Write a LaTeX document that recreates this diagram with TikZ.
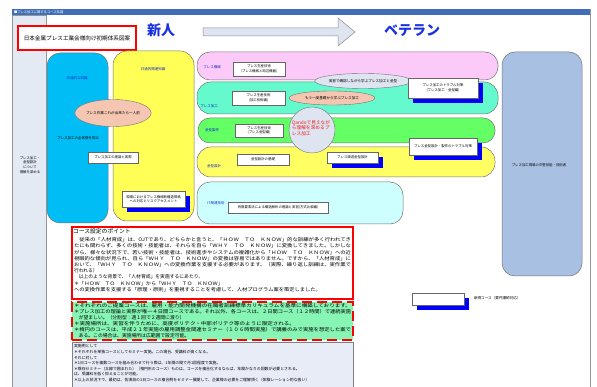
\documentclass[tikz,border=0pt]{standalone}
\usepackage{fontspec}
\setmainfont{Noto Sans CJK JP}
\usepackage{graphicx}
\usetikzlibrary{shapes.geometric,shadows}

\definecolor{framegray}{RGB}{150,150,150}
\definecolor{barblue}{RGB}{66,110,185}
\definecolor{sidepanel}{RGB}{228,234,244}
\definecolor{skyfill}{RGB}{0,190,245}
\definecolor{lemon}{RGB}{255,255,85}
\definecolor{rosefill}{RGB}{251,202,248}
\definecolor{aquafill}{RGB}{100,250,205}
\definecolor{limefill}{RGB}{100,255,100}
\definecolor{yelstripe}{RGB}{255,255,100}
\definecolor{icefill}{RGB}{205,255,255}
\definecolor{steelfill}{RGB}{168,192,226}
\definecolor{salmonfill}{RGB}{245,198,178}
\definecolor{mistfill}{RGB}{222,228,240}
\definecolor{notegreen}{RGB}{135,245,180}
\definecolor{notegray}{RGB}{232,236,246}
\definecolor{labelblue}{RGB}{20,40,200}
\definecolor{titleblue}{RGB}{25,50,225}
\definecolor{alertred}{RGB}{235,30,30}

\newcommand{\fsz}[1]{\fontsize{#1}{#1}\selectfont}
\newcommand{\wline}[2]{\resizebox{#1}{\height}{#2}}

\begin{document}
\begin{tikzpicture}[x=1pt,y=-1pt,
  every node/.style={inner sep=0pt,outer sep=0pt},
  panel/.style={draw=black!55,line width=0.5pt,rounded corners=13pt,anchor=north west},
  lbl/.style={font=\fsz{3.5},text=labelblue},
  wbox/.style={draw=black!60,fill=white,line width=0.4pt,font=\fontsize{3.4}{4.4}\selectfont,
               align=center,anchor=north west},
  sbox/.style={wbox,drop shadow={shadow xshift=5pt,shadow yshift=-5pt,fill=blue,opacity=1}},
  oval/.style={ellipse,draw=black!55,line width=0.4pt,font=\fsz{3.6}},
  bignote/.style={anchor=north west,align=left}
]
\useasboundingbox (0,0) rectangle (597,387);
\clip (0,0) rectangle (597,387);

% window frame, title bar and side panel
\draw[framegray,line width=0.6pt,fill=white] (12,9) rectangle (590,395);
\fill[barblue] (12,9) rectangle (590,15);
\node[anchor=west,text=white,font=\fsz{3.3}] (bartitle) at (14,12) {■プレス加工に関するコース系譜};
\draw[framegray,line width=0.5pt,fill=sidepanel] (12,15) rectangle (46,395);
\node[align=center,font=\fontsize{3.4}{4.6}\selectfont] (aim) at (30,165)
  {プレス加工・\\金型設計\\について\\理解を深める};

% heading
\node[draw=red,line width=1.5pt,fill=white,anchor=north west,minimum width=118pt,minimum height=24pt,
      font=\fsz{5.6}] (plan) at (18,26) {日本金属プレス工業会様向け初期体系図案};
\node[font=\bfseries\fsz{14},text=titleblue] (novice) at (161,30) {新人};
\node[font=\bfseries\fsz{14},text=titleblue] (veteran) at (412,31) {ベテラン};
\draw[black!45,line width=0.5pt,fill=mistfill]
  (203,28) -- (338,28) -- (338,18) -- (355,32) -- (338,46) -- (338,36) -- (203,36) -- cycle;

% basic knowledge columns
\node[panel,fill=skyfill,minimum width=61pt,minimum height=170pt] (basic) at (47,53) {};
\node[panel,fill=lemon,rounded corners=14pt,minimum width=81pt,minimum height=170pt] (related) at (113,51) {};
\node[lbl] (basiclbl) at (77,78) {共通的な知識};
\node[lbl] (relatedlbl) at (153,69) {共通的関連知識};
\node[font=\fsz{3.5}] (overview) at (78,138) {プレス加工の全体像を知る};
\node[oval,fill=salmonfill,minimum width=70pt,minimum height=27pt] (oneman) at (113,113)
  {プレス作業これが出来たら一人前};
\node[wbox,minimum width=50pt,minimum height=11pt] (theory) at (88,152) {プレス加工の理論と実際};
\node[sbox,minimum width=63pt,minimum height=16pt] (newstd) at (122,191)
  {現場におけるプレス機械新構造規格\\への対応とリスクアセスメント};

% skill stripes
\node[panel,fill=rosefill,minimum width=301pt,minimum height=28pt] (machine) at (197,52) {};
\node[panel,fill=aquafill,rounded corners=14pt,minimum width=301pt,minimum height=32pt] (forming) at (197,82) {};
\node[panel,fill=limefill,rounded corners=12pt,minimum width=297pt,minimum height=25pt] (diemake) at (198,118) {};
\node[panel,fill=yelstripe,rounded corners=14pt,minimum width=298pt,minimum height=30pt] (diedesign) at (197,147) {};
\node[panel,fill=icefill,minimum width=206pt,minimum height=42pt] (itskill) at (197,182) {};
\node[panel,fill=steelfill,minimum width=80pt,minimum height=224pt] (target) at (502,52) {};
\node[font=\fsz{3.4}] (targetlbl) at (539,165) {プレス加工現場の中堅技能・技術者};

\node[lbl] (machinelbl) at (212,67) {プレス機械};
\node[lbl] (forminglbl) at (209,106) {プレス加工};
\node[lbl] (diemakelbl) at (212,130) {金型製作};
\node[lbl] (diedesignlbl) at (214,166) {金型設計};
\node[lbl] (itlbl) at (216,203) {IT関連技術};

\node[wbox,minimum width=52pt,minimum height=14pt] (prodA) at (233,62) {プレス生産技術\\(プレス機械と周辺機器)};
\node[wbox,minimum width=53pt,minimum height=14pt] (prodB) at (232,91) {プレス生産技術\\(加工技術編)};
\node[wbox,minimum width=48pt,minimum height=13pt] (prodC) at (235,124) {プレス生産技術\\(プレス金型編)};
\node[wbox,minimum width=52pt,minimum height=11pt] (diebasics) at (237,154) {金型設計の基礎};
\node[wbox,minimum width=100pt,minimum height=11pt] (fem) at (228,202) {有限要素法による構造解析の理論と実習(方式比較編)};

\node[circle,draw=black!55,line width=0.4pt,fill=mistfill,minimum size=46pt] (visual) at (312,130) {};
\node[align=left,text=alertred,font=\fontsize{4.7}{5.6}\selectfont] (visualtxt) at (311,128)
  {Qandoで見えなが\\ら理解を深めるプ\\レス加工};
\node[oval,fill=mistfill,minimum width=87pt,minimum height=15pt] (practice) at (363,81)
  {実習で確認しながら学ぶプレス加工と金型};
\node[oval,fill=salmonfill,minimum width=86pt,minimum height=14pt] (review) at (332,98)
  {もう一度基礎から学ぶプレス加工};

\node[sbox,minimum width=51pt,minimum height=11pt] (progdie) at (327,152) {プレス順送金型設計};
\node[sbox,minimum width=70pt,minimum height=20pt] (trouble) at (408,78) {プレス加工のトラブル対策\\(プレス加工・金型編)};
\node[sbox,minimum width=68pt,minimum height=17pt] (dietrouble) at (409,138) {プレス金型設計・製作のトラブル対策};

% legend
\node[sbox,minimum width=52pt,minimum height=12pt] (legendbox) at (412,293) {};
\node[anchor=west,font=\fsz{3.6}] (legendtxt) at (474,298) {新規コース（要件講師対応）};

% course notes
\node[draw=red,line width=1.2pt,fill=white,anchor=north west,minimum width=281pt,minimum height=72pt] (points) at (72,227) {};
\node[anchor=west,font=\fsz{5.8}] (pointstitle) at (73,231) {コース設定のポイント};
\node[bignote,font=\fontsize{4.8}{6.2}\selectfont] (pointstxt) at (74,237.6) {%
\wline{277pt}{　従来の「人材育成」は、OJTであり、どちらかと言うと、「ＨＯＷ　ＴＯ　ＫＮＯＷ」的な訓練が多く行われてき}\\
\wline{277pt}{たにも関わらず、多くの技術・技能者は、それらを自ら「ＷＨＹ　ＴＯ　ＫＮＯＷ」に変換してきました。しかしな}\\
\wline{277pt}{がら、様々な状況下で、若い技術・技能者は、技術進歩やシステムの複雑化から「ＨＯＷ　ＴＯ　ＫＮＯＷ」への近}\\
\wline{277pt}{視眼的な傾向が見られ、自ら「ＷＨＹ　ＴＯ　ＫＮＯＷ」の変換は容易ではありません。ですから、「人材育成」に}\\
\wline{277pt}{おいて、「ＷＨＹ　ＴＯ　ＫＮＯＷ」への変換作業を支援する必要があります。（実際、繰り返し訓練は、実作業で}\\
行われる）\\
　以上のような背景で、「人材育成」を実施するにあたり、\\
\wline{149pt}{＊「ＨＯＷ　ＴＯ　ＫＮＯＷ」から「ＷＨＹ　ＴＯ　ＫＮＯＷ」}\\
\wline{247pt}{への変換作業を支援する「原理・原則」を重視することを考慮して、人材プログラム案を策定しました。}};

\node[draw=red,dash pattern=on 10pt off 5pt,line width=1.6pt,fill=notegreen,anchor=north west,
      minimum width=281pt,minimum height=38pt] (remarks) at (72,302) {};
\node[bignote,font=\fontsize{4.8}{6}\selectfont] (remarkstxt) at (74,303.2) {%
\wline{277pt}{＊それぞれのご提案コースは、雇用・能力開発機構の在職者訓練標準カリキュラムを基準に構築しております。}\\
\wline{277pt}{＊プレス加工の理論と実際が唯一４日間コースである。それ以外、各コースは、２日間コース（１２時間）で連続実施}\\
　が望ましい。（分割型：週１回で２週間に渡り）\\
\wline{221pt}{＊実施場所は、実習を伴うために、高度ポリテク・中部ポリテク等のように限定される。}\\
\wline{277pt}{＊楕円のコースは、平成２１年実施の雇用調整金関連セミナー（１０６時間実施）で講義のみで実施を想定した案で}\\
　ある。この場合は、実施場所は広範囲で設定可能。};

\node[draw=black!50,line width=0.5pt,fill=notegray,anchor=north west,minimum width=281pt,minimum height=60pt] (examples) at (72,342) {};
\node[bignote,font=\fontsize{3.9}{5.6}\selectfont] (examplestxt) at (74,344.6) {%
実施例として\\
＊それぞれを単独コースとしてセミナー実施。この場合、受講料が高くなる。\\
それに対して\\
＊1日コースを複数コースを組み合わせて行う際は、1年間の間で月1回程度で実施。\\
＊既存セミナー（太線で囲まれた）（楕円形のコース）ものは、コースを複合化するならば、年間かなりの回数が必要とされる。\\
は、受講料を低く抑えることが可能。\\
＊以上の状況下で、最初は、各項目の1日コースの複合例をセミナー展開して、企業様の必要をご理解頂く（体験レーション的な扱い）};

\end{tikzpicture}
\end{document}
